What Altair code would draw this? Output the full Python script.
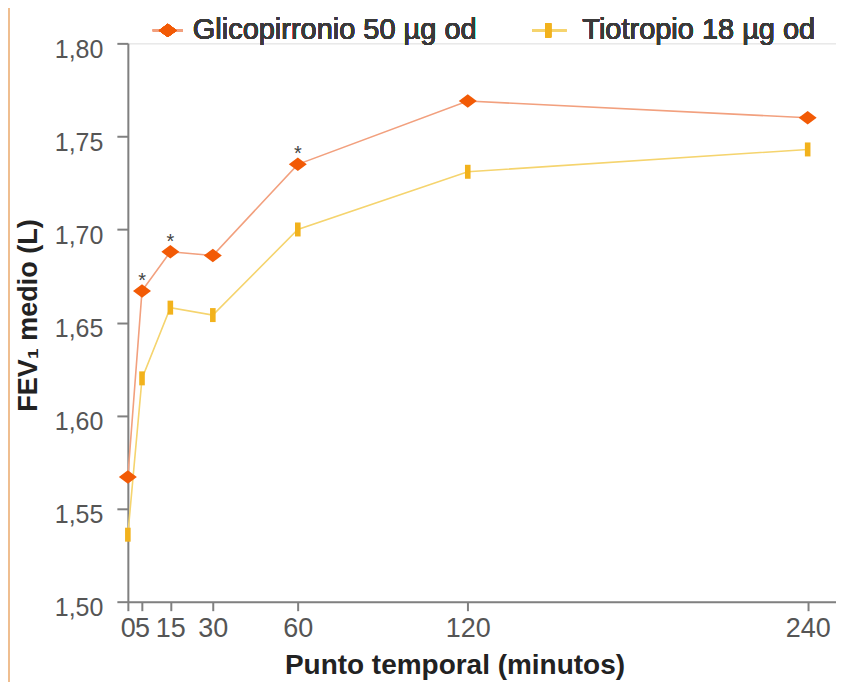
import altair as alt
import pandas as pd

# ---- data ----
minutes = [0, 5, 15, 30, 60, 120, 240]
glico = [1.567, 1.667, 1.688, 1.686, 1.735, 1.769, 1.760]
tio = [1.536, 1.620, 1.658, 1.654, 1.700, 1.731, 1.743]
series_names = ["Glicopirronio 50 µg od", "Tiotropio 18 µg od"]
signif_minutes = [5, 15, 60]
y_ticks = [1.50, 1.55, 1.60, 1.65, 1.70, 1.75, 1.80]

rows = []
for m, v in zip(minutes, glico):
    rows.append({"min": m, "fev": v, "serie": series_names[0]})
for m, v in zip(minutes, tio):
    rows.append({"min": m, "fev": v, "serie": series_names[1]})
df = pd.DataFrame(rows)
stars = df[(df["serie"] == series_names[0]) & (df["min"].isin(signif_minutes))]

FONT = "Liberation Sans"
GLI_MARK = "#F25A05"
GLI_LINE = "#F2A07E"
TIO_MARK = "#F2B21C"
TIO_LINE = "#F5D46E"
DIAMOND = "M-1,0L0,-0.75L1,0L0,0.75Z"
BAR = "M-0.2,-0.5L0.2,-0.5L0.2,0.5L-0.2,0.5Z"

x_scale = alt.Scale(domain=[0, 250], nice=False, zero=False)
y_scale = alt.Scale(domain=[1.5, 1.8], nice=False, zero=False)

x_axis = alt.Axis(
    values=minutes, title="Punto temporal (minutos)", grid=False,
    domainColor="#808080", domainWidth=2, tickColor="#808080", tickWidth=2,
    tickSize=9, labelFontSize=27, labelColor="#555555", labelPadding=5,
    labelOverlap=False, labelFlush=False, labelBound=False, labelFont=FONT,
    titleFont=FONT, titleFontSize=28, titleFontWeight="bold", titleColor="#222222",
    titleX=327, titleY=64, titleAlign="center", titleBaseline="middle",
)
y_axis = alt.Axis(
    values=y_ticks, title="FEV₁ medio (L)", grid=False,
    labelExpr="replace(format(datum.value, '.2f'), '.', ',')",
    domainColor="#808080", domainWidth=2, tickColor="#808080", tickWidth=2,
    tickSize=11, labelFontSize=25, labelColor="#555555", labelPadding=14,
    labelOffset=6, labelFont=FONT,
    titleFont=FONT, titleFontSize=27, titleFontWeight="bold", titleColor="#222222",
    titleX=-99, titleY=272, titleAngle=-90, titleAlign="center", titleBaseline="middle",
)

base = alt.Chart(df)

lines = base.mark_line(strokeWidth=1.6).encode(
    x=alt.X("min:Q", scale=x_scale, axis=x_axis),
    y=alt.Y("fev:Q", scale=y_scale, axis=y_axis),
    stroke=alt.Stroke("serie:N", scale=alt.Scale(domain=series_names, range=[GLI_LINE, TIO_LINE]), legend=None),
    detail="serie:N",
)
points = base.mark_point(filled=True, opacity=1, strokeWidth=0).encode(
    x=alt.X("min:Q", scale=x_scale),
    y=alt.Y("fev:Q", scale=y_scale),
    fill=alt.Fill("serie:N", scale=alt.Scale(domain=series_names, range=[GLI_MARK, TIO_MARK]), legend=None),
    shape=alt.Shape("serie:N", scale=alt.Scale(domain=series_names, range=[DIAMOND, BAR]), legend=None),
    size=alt.Size("serie:N", scale=alt.Scale(domain=series_names, range=[324, 784]), legend=None),
)
star_layer = alt.Chart(stars).mark_text(
    text="*", fontSize=20, color="#444444", font=FONT, baseline="middle", dy=-10
).encode(
    x=alt.X("min:Q", scale=x_scale),
    y=alt.Y("fev:Q", scale=y_scale),
)

# ---- manual legend (top) ----
leg_y = -13
leg = []
leg.append(alt.Chart(df).mark_rule(color=GLI_LINE, strokeWidth=2).encode(
    x=alt.value(25), x2=alt.value(55), y=alt.value(leg_y)))
leg.append(alt.Chart(df).mark_point(filled=True, opacity=1, strokeWidth=0, shape=DIAMOND, size=324, color=GLI_MARK).encode(
    x=alt.value(40), y=alt.value(leg_y)))
leg.append(alt.Chart(df).mark_text(text=series_names[0], align="left", baseline="middle", fontSize=29,
                                    color="#3a3a3a", font=FONT).encode(
    x=alt.value(65), y=alt.value(leg_y)))
leg.append(alt.Chart(df).mark_rule(color=TIO_LINE, strokeWidth=2).encode(
    x=alt.value(405), x2=alt.value(439), y=alt.value(leg_y)))
leg.append(alt.Chart(df).mark_point(filled=True, opacity=1, strokeWidth=0, shape=BAR, size=784, color=TIO_MARK).encode(
    x=alt.value(421), y=alt.value(leg_y)))
leg.append(alt.Chart(df).mark_text(text=series_names[1], align="left", baseline="middle", fontSize=29,
                                    color="#3a3a3a", font=FONT).encode(
    x=alt.value(455), y=alt.value(leg_y)))

# left frame edge, as in the reference picture
frame = alt.Chart(df).mark_rule(color="#EFBE90", strokeWidth=2).encode(
    x=alt.value(-119), y=alt.value(-35), y2=alt.value(639))

chart = alt.layer(lines, points, star_layer, *leg, frame).properties(
    width=709, height=559,
    autosize=alt.AutoSizeParams(type="none"),
    padding={"left": 120, "top": 35, "right": 0, "bottom": 80},
).configure_view(stroke=None).configure(background="white")

chart.save("out.html", embed_options={"renderer": "svg", "actions": False})
